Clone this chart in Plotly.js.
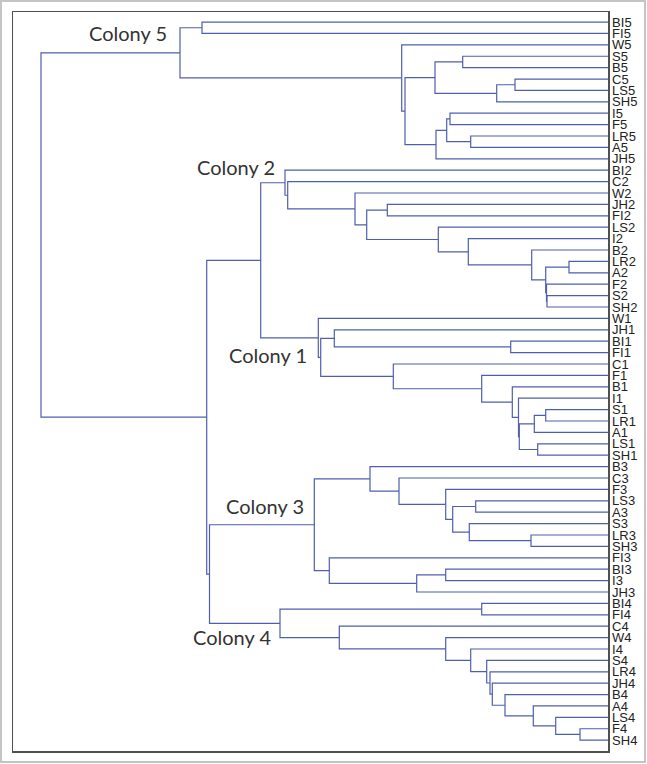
<!DOCTYPE html>
<html>
<head>
<meta charset="utf-8">
<script src="https://cdn.plot.ly/plotly-3.0.1.min.js"></script>
<style>
  html, body { margin: 0; padding: 0; background: #ffffff; }
  #chart { width: 647px; height: 764px; }
</style>
</head>
<body>
<div id="chart"></div>
<script>
// Leaf order, top to bottom
const leaves = [
  'BI5','FI5','W5','S5','B5','C5','LS5','SH5','I5','F5','LR5','A5','JH5',
  'BI2','C2','W2','JH2','FI2','LS2','I2','B2','LR2','A2','F2','S2','SH2',
  'W1','JH1','BI1','FI1','C1','F1','B1','I1','S1','LR1','A1','LS1','SH1',
  'B3','C3','F3','LS3','A3','S3','LR3','SH3','FI3','BI3','I3','JH3',
  'BI4','FI4','C4','W4','I4','S4','LR4','JH4','B4','A4','LS4','F4','SH4'
];

// Merges: [id, child A, child B, linkage distance]
const colony5Merges = [
  ['m0','BI5','FI5',4.06], ['m1','S5','B5',1.453], ['m2','C5','LS5',0.93],
  ['m3','m2','SH5',1.113], ['m4','m1','m3',1.73], ['m5','I5','F5',1.58],
  ['m6','LR5','A5',1.373], ['m7','m5','m6',1.613], ['m8','m7','JH5',1.72],
  ['m9','m4','m8',2.03], ['m10','W5','m9',2.063], ['c5','m0','m10',4.28]
];
const colony2Merges = [
  ['c2a','LR2','A2',0.39], ['c2b','S2','SH2',0.61], ['c2c','F2','c2b',0.615],
  ['c2d','c2a','c2c',0.623], ['c2e','B2','c2d',0.763], ['c2f','I2','c2e',1.397],
  ['c2g','LS2','c2f',1.697], ['c2h','JH2','FI2',2.207], ['c2i','c2h','c2g',2.413],
  ['c2j','W2','c2i',2.53], ['c2k','C2','c2j',3.203], ['c2','BI2','c2k',3.23]
];
const colony1Merges = [
  ['c1a','BI1','FI1',0.973], ['c1b','JH1','c1a',2.737], ['c1c','S1','LR1',0.623],
  ['c1d','c1c','A1',0.737], ['c1e','LS1','SH1',0.703], ['c1f','c1d','c1e',0.887],
  ['c1g','I1','c1f',0.895], ['c1h','B1','c1g',0.957], ['c1i','F1','c1h',1.263],
  ['c1j','C1','c1i',2.147], ['c1k','c1b','c1j',2.873], ['c1','W1','c1k',2.897]
];
const colony3Merges = [
  ['c3a','LS3','A3',1.323], ['c3b','LR3','SH3',0.77], ['c3c','S3','c3b',1.387],
  ['c3d','c3a','c3c',1.553], ['c3e','F3','c3d',1.623], ['c3f','C3','c3e',2.09],
  ['c3g','B3','c3f',2.38], ['c3h','BI3','I3',1.623], ['c3i','c3h','JH3',1.913],
  ['c3j','FI3','c3i',2.787], ['c3','c3g','c3j',2.937]
];
const colony4Merges = [
  ['c4a','BI4','FI4',1.263], ['c4b','F4','SH4',0.28], ['c4c','LS4','c4b',0.523],
  ['c4d','A4','c4c',0.747], ['c4e','B4','c4d',1.03], ['c4f','JH4','c4e',1.157],
  ['c4g','LR4','c4f',1.18], ['c4h','S4','c4g',1.213], ['c4i','I4','c4h',1.373],
  ['c4j','W4','c4i',1.623], ['c4k','C4','c4j',2.687], ['c4','c4a','c4k',3.28]
];
const topMerges = [
  ['n21','c2','c1',3.473], ['n34','c3','c4',3.985],
  ['nall','n21','n34',4.013], ['root','c5','nall',5.67]
];

// Colony labels: [text, node id it sits by]
const colonyLabels = [
  ['Colony 5', 4.39, 0.97], ['Colony 2', 3.31, 12.72], ['Colony 1', 2.99, 29.2],
  ['Colony 3', 3.02, 42.46], ['Colony 4', 3.35, 53.92]
];

const allMerges = [].concat(colony5Merges, colony2Merges, colony1Merges,
                            colony3Merges, colony4Merges, topMerges);

const pos = {};
leaves.forEach((n, i) => { pos[n] = { h: 0, y: i }; });
const xs = [], ys = [];
allMerges.forEach(([id, a, b, h]) => {
  const A = pos[a], B = pos[b];
  xs.push(A.h, h, h, B.h, null);
  ys.push(A.y, A.y, B.y, B.y, null);
  pos[id] = { h: h, y: (A.y + B.y) / 2 };
});

const trace = {
  x: xs, y: ys, type: 'scatter', mode: 'lines',
  line: { color: '#4f5fae', width: 1.2 },
  hoverinfo: 'skip', showlegend: false
};

const layout = {
  width: 647, height: 764,
  margin: { l: 13, r: 39, t: 12, b: 13, pad: 0 },
  paper_bgcolor: '#ffffff', plot_bgcolor: '#ffffff',
  xaxis: {
    range: [5.95, 0], showticklabels: false, showgrid: false, zeroline: false,
    showline: true, mirror: true, linecolor: '#505050', linewidth: 1.5, ticks: ''
  },
  yaxis: {
    range: [63.95, -0.88], side: 'right', showgrid: false, zeroline: false,
    tickmode: 'array', tickvals: leaves.map((_, i) => i), ticktext: leaves,
    tickfont: { family: 'Liberation Sans, Arial, sans-serif', size: 13, color: '#222222' },
    showline: true, mirror: true, linecolor: '#505050', linewidth: 1.5, ticks: ''
  },
  annotations: colonyLabels.map(([t, x, y]) => ({
    text: t, x: x, y: y, xref: 'x', yref: 'y', xanchor: 'right', yanchor: 'middle',
    showarrow: false, font: { family: 'Lato, Open Sans, sans-serif', size: 20, color: '#333333' }
  })),
  shapes: [{
    type: 'rect', xref: 'paper', yref: 'paper',
    x0: -0.0202, x1: 1.0622, y0: -0.0149, y1: 1.0149,
    line: { color: '#c4c4c4', width: 2 }, fillcolor: 'rgba(0,0,0,0)', layer: 'below'
  }]
};

Plotly.newPlot('chart', [trace], layout, { displayModeBar: false, staticPlot: true });
</script>
</body>
</html>
